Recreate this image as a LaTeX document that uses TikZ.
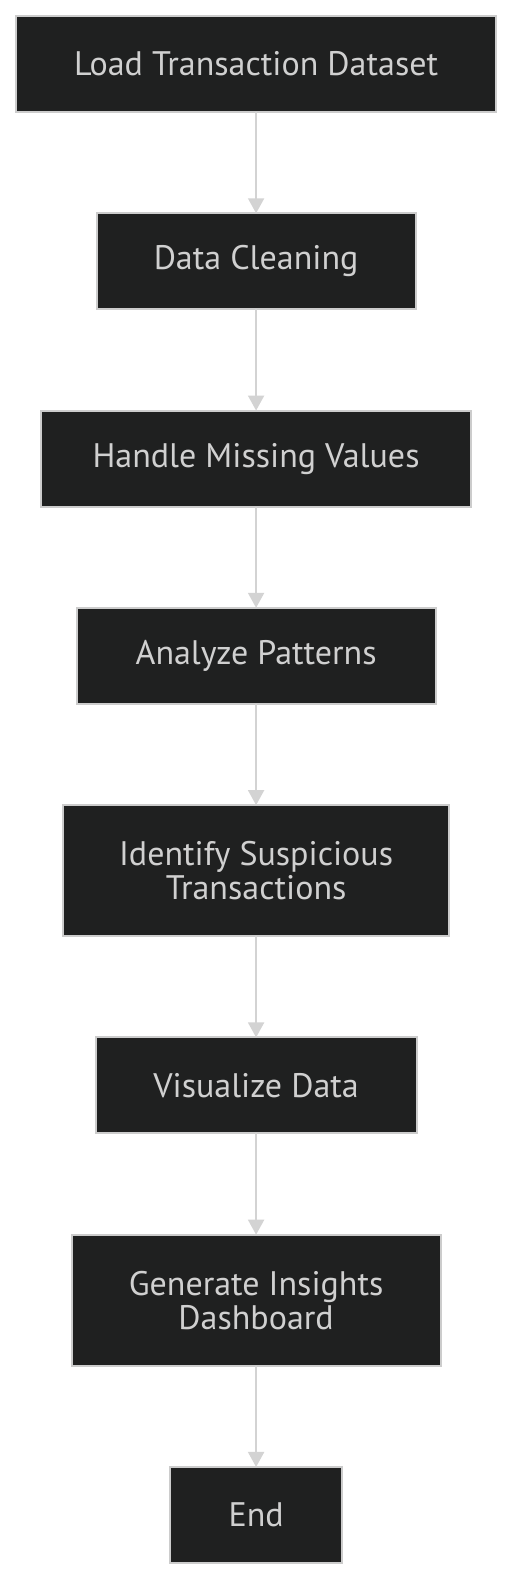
\documentclass[tikz,border=0pt]{standalone}
\usepackage{fontspec}
\setmainfont{PT Sans}
\usetikzlibrary{positioning, arrows.meta, calc}
\definecolor{boxfill}{HTML}{1F2020}
\definecolor{boxline}{HTML}{CCCCCC}
\definecolor{boxtext}{HTML}{D0D0D0}
\definecolor{edgeline}{HTML}{D3D3D3}

\begin{document}
\begin{tikzpicture}[
    node distance=50.6pt,
    block/.style={rectangle, draw=boxline, line width=1pt, outer sep=0pt, fill=boxfill, text=boxtext, align=center, minimum height=48pt, font=\fontsize{17}{17}\selectfont},
    tall/.style={minimum height=65.5pt},
    line/.style={draw=edgeline, line width=1pt, -{Triangle[length=7.5pt, width=8pt]}}
]

    % Steps, top to bottom
    \node [block, minimum width=240pt] (load) {Load Transaction Dataset};
    \node [block, minimum width=159.5pt, below=of load] (clean) {Data Cleaning};
    \node [block, minimum width=215pt, below=of clean] (missing) {Handle Missing Values};
    \node [block, minimum width=179.5pt, below=of missing] (patterns) {Analyze Patterns};
    \node [block, tall, minimum width=193pt, below=of patterns] (suspicious) {Identify Suspicious\\Transactions};
    \node [block, minimum width=160.5pt, below=of suspicious] (visualize) {Visualize Data};
    \node [block, tall, minimum width=184.5pt, below=of visualize] (insights) {Generate Insights\\Dashboard};
    \node [block, minimum width=86pt, below=of insights] (end) {End};

    % Flow
    \path [line] (load) -- (clean);
    \path [line] (clean) -- (missing);
    \path [line] (missing) -- (patterns);
    \path [line] (patterns) -- (suspicious);
    \path [line] (suspicious) -- (visualize);
    \path [line] (visualize) -- (insights);
    \path [line] (insights) -- (end);

    % Margins
    \useasboundingbox ($(load.north west)+(-8pt,8pt)$) rectangle ($(load.north east |- end.south)+(8pt,-8.5pt)$);

\end{tikzpicture}
\end{document}
